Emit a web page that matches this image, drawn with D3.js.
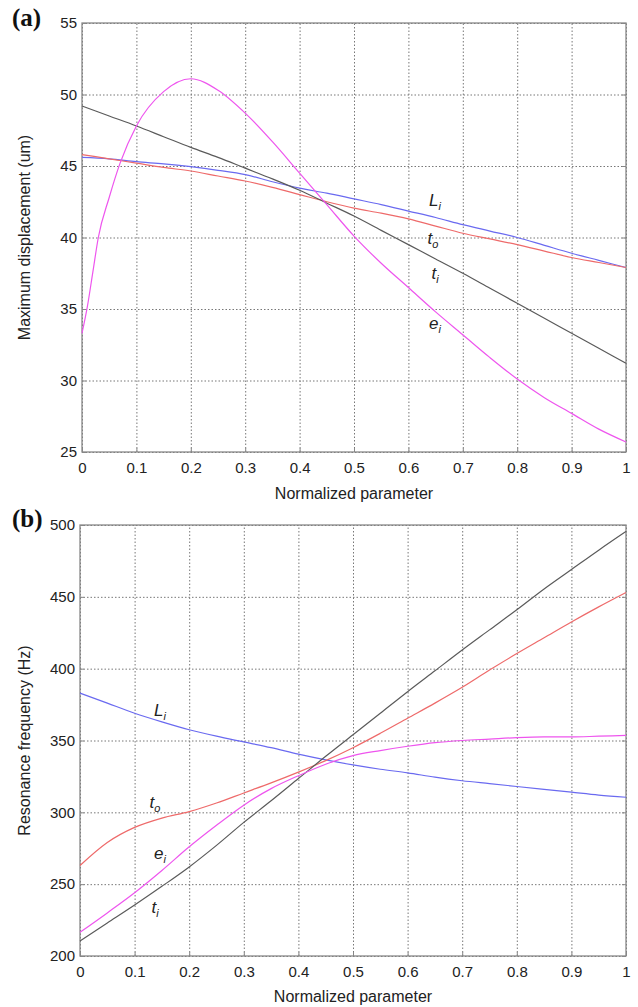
<!DOCTYPE html>
<html><head><meta charset="utf-8">
<script src="https://cdn.jsdelivr.net/npm/d3@7"></script>
<style>
body{margin:0;background:#fff;}
</style></head>
<body><svg id="c" width="638" height="1007" style="font-family:'Liberation Sans',Arial,sans-serif"></svg>
<script>
// ---------- data ----------
const xGrid = [0,0.05,0.1,0.15,0.2,0.25,0.3,0.35,0.4,0.45,0.5,0.55,0.6,0.65,0.7,0.75,0.8,0.85,0.9,0.95,1];
const xTicks = [0,0.1,0.2,0.3,0.4,0.5,0.6,0.7,0.8,0.9,1];
const yTicksA = [25,30,35,40,45,50,55];
const yTicksB = [200,250,300,350,400,450,500];

// (a) Maximum displacement (um)
const dispLi = [45.6,45.5,45.3,45.15,44.95,44.7,44.4,43.9,43.45,43.1,42.7,42.3,41.85,41.4,40.9,40.45,40.0,39.45,38.9,38.4,37.9];
const dispTo = [45.8,45.5,45.2,44.9,44.65,44.3,43.95,43.5,43.0,42.5,42.05,41.7,41.3,40.8,40.3,39.9,39.5,39.05,38.6,38.25,37.9];
const dispTi = [49.2,48.5,47.8,47.05,46.3,45.6,44.85,44.1,43.3,42.4,41.5,40.5,39.5,38.5,37.5,36.45,35.4,34.35,33.3,32.25,31.2];
const dispEiX = [0,0.01,0.02,0.03,0.05,0.07,0.1,0.15,0.2,0.25,0.3,0.35,0.4,0.45,0.5,0.55,0.6,0.65,0.7,0.75,0.8,0.85,0.9,0.95,1];
const dispEi = [33.3,35.2,37.6,40.0,42.8,45.2,47.8,50.2,51.1,50.3,48.7,46.7,44.5,42.3,40.1,38.2,36.5,34.8,33.2,31.6,30.1,28.8,27.7,26.6,25.7];

// (b) Resonance frequency (Hz)
const freqLi = [383,376,369,363,357.5,353,349,345,340.5,336.5,333,330,327.5,324.5,322,320,318,316,314,312,310.5];
const freqTo = [263,279,289.5,296,300.5,306.5,313.5,320.5,328,336,345,355,365.5,376,387,399,410.5,421.5,432.5,443,453];
const freqTi = [210.5,223,235.5,248.5,262,277,293,308,323.5,339,354,369,384,398.5,413,427,441,455.5,469,482.5,495.5];
const freqEi = [216.5,230,244,259.5,276,291,305,316.5,325.5,333.5,339.5,343,346,348.5,350,351,352,352.5,352.5,353,353.5];

const colors = {Li:"#6a6af0", to:"#ee6a6a", ti:"#5a5a5a", ei:"#ee55ee"};

const svg = d3.select("#c");

function panel(cfg){
  const g = svg.append("g");
  const x = d3.scaleLinear().domain([0,1]).range([cfg.left, cfg.right]);
  const y = d3.scaleLinear().domain(cfg.ydom).range([cfg.bottom, cfg.top]);
  const W = cfg.right-cfg.left, H = cfg.bottom-cfg.top;
  // grid
  g.append("g").attr("transform",`translate(0,${cfg.bottom})`)
    .call(d3.axisBottom(x).tickValues(xTicks).tickSize(-H).tickFormat(""))
    .call(a=>a.select(".domain").remove())
    .selectAll("line").attr("stroke","#777").attr("stroke-dasharray","1.5,2").attr("stroke-width",1);
  g.append("g").attr("transform",`translate(${cfg.left},0)`)
    .call(d3.axisLeft(y).tickValues(cfg.yticks).tickSize(-W).tickFormat(""))
    .call(a=>a.select(".domain").remove())
    .selectAll("line").attr("stroke","#777").attr("stroke-dasharray","1.5,2").attr("stroke-width",1);
  // axes with labels
  const ax = g.append("g").attr("transform",`translate(0,${cfg.bottom})`)
    .call(d3.axisBottom(x).tickValues(xTicks).tickSizeInner(-4).tickSizeOuter(0).tickPadding(10).tickFormat(d3.format("~g")));
  const ay = g.append("g").attr("transform",`translate(${cfg.left},0)`)
    .call(d3.axisLeft(y).tickValues(cfg.yticks).tickSizeInner(-4).tickSizeOuter(0).tickPadding(5));
  [ax,ay].forEach(a=>{
    a.select(".domain").remove();
    a.selectAll("line").attr("stroke","#888");
    a.selectAll("text").attr("font-size",15).attr("fill","#222").attr("font-family","'Liberation Sans',Arial,sans-serif");
  });
  // right ticks
  g.append("g").attr("transform",`translate(${cfg.right},0)`)
    .call(d3.axisRight(y).tickValues(cfg.yticks).tickSizeInner(-4).tickSizeOuter(0).tickFormat(""))
    .call(a=>a.select(".domain").remove()).selectAll("line").attr("stroke","#888");
  // frame
  g.append("rect").attr("x",cfg.left).attr("y",cfg.top).attr("width",W).attr("height",H)
    .attr("fill","none").attr("stroke","#888").attr("stroke-width",1.3);
  // lines
  const line = d3.line().x(d=>x(d[0])).y(d=>y(d[1])).curve(d3.curveMonotoneX);
  cfg.series.forEach(s=>{
    g.append("path").datum(s.x.map((v,i)=>[v,s.y[i]]))
      .attr("d",line).attr("fill","none").attr("stroke",colors[s.k]).attr("stroke-width",1.2);
  });
  // series labels
  cfg.labels.forEach(l=>{
    const t = g.append("text").attr("x",l.x).attr("y",l.y).attr("font-size",17)
      .attr("font-style","italic").attr("fill","#222").attr("text-anchor","middle");
    t.append("tspan").text(l.main);
    t.append("tspan").text(l.sub).attr("font-size",11).attr("dy",4);
  });
  // axis titles
  g.append("text").attr("x",(cfg.left+cfg.right)/2).attr("y",cfg.xtitleY).attr("text-anchor","middle")
    .attr("font-size",16).attr("fill","#222").text("Normalized parameter");
  g.append("text").attr("transform",`translate(${cfg.ytitleX},${(cfg.top+cfg.bottom)/2}) rotate(-90)`)
    .attr("text-anchor","middle").attr("font-size",16).attr("fill","#222").text(cfg.ytitle);
  // panel tag
  g.append("text").attr("x",12).attr("y",cfg.tagY)
    .style("font-family","'Liberation Serif','Times New Roman',serif")
    .attr("font-weight","bold").attr("font-size",25).attr("fill","#111").text(cfg.tag);
}

panel({
  left:82,right:626,top:23,bottom:452,ydom:[25,55],yticks:yTicksA,
  xtitleY:499,ytitleX:30,ytitle:"Maximum displacement (um)",tag:"(a)",tagY:26,
  series:[{k:"Li",x:xGrid,y:dispLi},{k:"to",x:xGrid,y:dispTo},{k:"ti",x:xGrid,y:dispTi},{k:"ei",x:dispEiX,y:dispEi}],
  labels:[{main:"L",sub:"i",x:435,y:206},{main:"t",sub:"o",x:433,y:244},{main:"t",sub:"i",x:435,y:279},{main:"e",sub:"i",x:435,y:329}]
});
panel({
  left:80,right:626,top:525,bottom:956,ydom:[200,500],yticks:yTicksB,
  xtitleY:1002,ytitleX:30,ytitle:"Resonance frequency (Hz)",tag:"(b)",tagY:527,
  series:[{k:"Li",x:xGrid,y:freqLi},{k:"to",x:xGrid,y:freqTo},{k:"ti",x:xGrid,y:freqTi},{k:"ei",x:xGrid,y:freqEi}],
  labels:[{main:"L",sub:"i",x:160,y:716},{main:"t",sub:"o",x:155,y:808},{main:"e",sub:"i",x:160,y:859},{main:"t",sub:"i",x:155,y:913}]
});
</script></body></html>
